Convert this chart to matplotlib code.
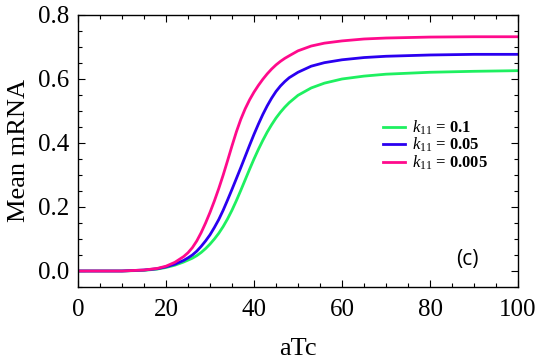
import matplotlib
matplotlib.use('Agg')
import matplotlib.pyplot as plt
from matplotlib.ticker import MultipleLocator

plt.rcParams['font.family'] = ['Liberation Serif', 'DejaVu Serif']
plt.rcParams['mathtext.fontset'] = 'custom'
plt.rcParams['mathtext.rm'] = 'Liberation Serif'
plt.rcParams['mathtext.it'] = 'Liberation Serif:italic'

# values
atc = [0, 10, 15, 18, 20, 22, 24, 25, 26, 27, 28, 29, 30, 31, 32, 33, 34, 35, 36,
       37, 38, 39, 40, 41, 42, 43, 44, 45, 46, 47, 48,
       50, 53, 56, 60, 65, 70, 80, 90, 100]
mrna_k01 = [0, 0, 0.002, 0.006, 0.011, 0.018, 0.028, 0.034, 0.040, 0.048, 0.058, 0.070,
            0.084, 0.100, 0.118, 0.139, 0.163, 0.190, 0.220, 0.252, 0.285, 0.318, 0.350,
            0.380, 0.408, 0.434, 0.457, 0.478, 0.496, 0.512, 0.526,
            0.549, 0.572, 0.587, 0.600, 0.609, 0.615, 0.621, 0.624, 0.626]
mrna_k005 = [0, 0, 0.003, 0.007, 0.013, 0.021, 0.033, 0.041, 0.050, 0.062, 0.077, 0.094,
             0.113, 0.136, 0.161, 0.190, 0.222, 0.255, 0.289, 0.323, 0.358, 0.393, 0.427,
             0.459, 0.489, 0.516, 0.540, 0.561, 0.578, 0.592, 0.604,
             0.621, 0.640, 0.651, 0.660, 0.667, 0.671, 0.675, 0.677, 0.677]
mrna_k0005 = [0, 0, 0.003, 0.008, 0.015, 0.027, 0.045, 0.057, 0.073, 0.094, 0.120, 0.150,
              0.183, 0.219, 0.258, 0.300, 0.345, 0.391, 0.435, 0.474, 0.507, 0.535, 0.559,
              0.580, 0.599, 0.616, 0.631, 0.644, 0.655, 0.6645, 0.6725,
              0.688, 0.703, 0.712, 0.719, 0.725, 0.728, 0.731, 0.732, 0.732]

series = [
    (mrna_k01, '#1ef060', r'$k_{11}$ = 0.1'),
    (mrna_k005, '#2a00f0', r'$k_{11}$ = 0.05'),
    (mrna_k0005, '#ff0a8c', r'$k_{11}$ = 0.005'),
]

fig = plt.figure(figsize=(5.4, 3.62), dpi=100)
ax = fig.add_axes([0.1444, 0.2072, 0.8149, 0.7514])

for vals, col, lab in series:
    ax.plot(atc, vals, color=col, lw=2.0, label=lab, solid_joinstyle='round')

ax.set_xlim(0, 100)
ax.set_ylim(-0.05, 0.8)
ax.xaxis.set_major_locator(MultipleLocator(20))
ax.xaxis.set_minor_locator(MultipleLocator(5))
ax.yaxis.set_minor_locator(MultipleLocator(0.05))
ax.set_yticks([0, 0.2, 0.4, 0.6, 0.8])
ax.set_yticklabels(['0.0', '0.2', '0.4', '0.6', '0.8'])
ax.tick_params(which='both', direction='in', top=True, right=True, labelsize=18, width=0.8)
ax.tick_params(which='major', length=5, pad=6)
ax.tick_params(axis='x', which='major', pad=9)
ax.tick_params(which='minor', length=3)
for s in ax.spines.values():
    s.set_linewidth(1.0)

ax.set_xlabel('aTc', fontsize=19, labelpad=12)
ax.set_ylabel('Mean mRNA', fontsize=19, labelpad=6)

leg = ax.legend(loc='upper left', bbox_to_anchor=(0.66, 0.675), frameon=False,
                handlelength=1.3, handletextpad=0.4, labelspacing=-0.05,
                prop={'family': 'Liberation Serif', 'weight': 'bold', 'size': 12})

ax.text(0.885, 0.1, '(c)', transform=ax.transAxes, fontsize=15,
        family='Open Sans', ha='center', va='center')

fig.savefig('out.png', dpi=100)
